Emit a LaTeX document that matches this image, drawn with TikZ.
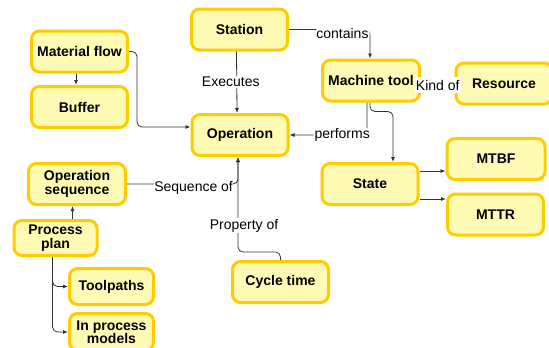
\documentclass[tikz,border=0pt]{standalone}
\usepackage{fontspec}
\setmainfont{Liberation Sans}
\usetikzlibrary{arrows.meta}
\definecolor{conceptfill}{HTML}{FFFBB4}
\definecolor{conceptline}{HTML}{FFCC00}
\begin{document}
\begin{tikzpicture}[x=1pt,y=-1pt,
    concept/.style={draw=conceptline,fill=conceptfill,line width=3pt,rounded corners=8pt,
      minimum width=96pt,minimum height=41pt,align=center,inner sep=2pt,
      font=\fontsize{14}{13.5}\selectfont\bfseries},
    smallconcept/.style={concept,minimum width=83pt,minimum height=35pt},
    rel/.style={fill=white,inner sep=1pt,font=\fontsize{14}{14}\selectfont},
    link/.style={draw=black!80,line width=0.8pt,rounded corners=5pt,-{Latex[length=5pt,width=4pt]}},
    plainlink/.style={draw=black!80,line width=0.8pt}]
    \useasboundingbox (0,0) rectangle (549,348);
    % concepts
    \node[concept] (mf) at (79.5,51.5) {Material flow};
    \node[concept] (buf) at (79.5,107) {Buffer};
    \node[concept] (sta) at (239.5,29.5) {Station};
    \node[concept] (op) at (240,135) {Operation};
    \node[concept,minimum width=97pt] (mt) at (371,80.5) {Machine tool};
    \node[concept] (res) at (504,83.5) {Resource};
    \node[concept,minimum width=98pt] (mtbf) at (496,159) {MTBF};
    \node[concept] (st) at (370,184) {State};
    \node[concept] (mttr) at (495.5,214.5) {MTTR};
    \node[concept] (ct) at (280.5,282) {Cycle time};
    \node[concept,minimum width=97pt] (os) at (77,184) {Operation\\sequence};
    \node[smallconcept] (pp) at (55.5,238) {Process\\plan};
    \node[smallconcept,minimum width=84pt,minimum height=36pt] (tp) at (111.5,286.5) {Toolpaths};
    \node[smallconcept,minimum width=84pt,minimum height=37pt] (ipm) at (111.5,332) {In process\\models};
    % helper points
    \coordinate (opin) at ([xshift=-2pt]op.south);
    \coordinate (s1) at ([yshift=13pt]st.east);
    \coordinate (s2) at ([yshift=-15pt]st.east);
    \coordinate (pp1) at ([xshift=17pt]pp.north);
    \coordinate (pp2) at ([xshift=-3pt]pp.south);
    % links
    \draw[link] ([xshift=-3.5pt]mf.south) -- ([xshift=-3.5pt]buf.north);
    \draw[link] (mf.east) -- ++(8,0) |- ([yshift=8pt]op.west);
    \draw[link] ([xshift=-3pt]sta.south) -- node[rel,xshift=-6pt]{Executes} ([xshift=-3pt]op.north);
    \draw[link] (sta.east) -- node[rel,pos=0.66,yshift=-4pt]{contains} ([xshift=-1pt]mt.north |- sta.east) -- ([xshift=-1pt]mt.north);
    \draw[plainlink] (mt.east) -- node[rel,yshift=-3pt,inner ysep=3pt]{Kind of} ([yshift=-3pt]mt.east -| res.west);
    \draw[link] ([xshift=-4pt]mt.south) |- node[rel,pos=0.66]{performs} (op.east);
    \draw[link] ([xshift=-1pt]mt.south) -- ++(0,9) -| ([xshift=23pt]st.north);
    \draw[link] (s1) -- (s1 -| mtbf.west);
    \draw[link] (s2) -- (s2 -| mttr.west);
    \draw[link] (pp1) -- (pp1 |- os.south);
    \draw[link] (pp2) |- (tp.west);
    \draw[link] (pp2) |- (ipm.west);
    \draw[link] (os.east) -- node[rel,pos=0.6,yshift=-4pt]{Sequence of} (opin |- os.east) -- (opin);
    \draw[link] (ct.north) -- ++(0,-8) -| node[rel,pos=0.64,xshift=6pt]{Property of} (opin);
\end{tikzpicture}
\end{document}
